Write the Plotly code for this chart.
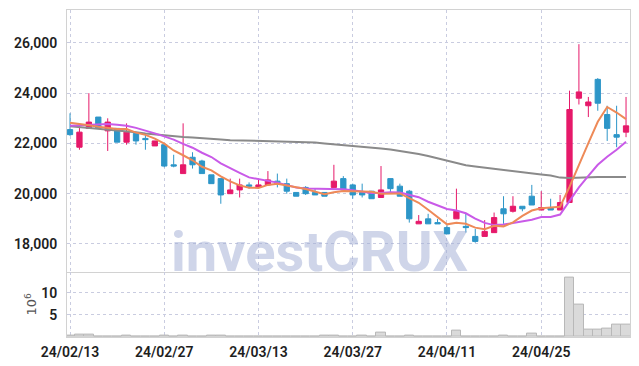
import plotly.graph_objects as go
from plotly.subplots import make_subplots

dates = ["24/02/13","24/02/14","24/02/15","24/02/16","24/02/19","24/02/20","24/02/21","24/02/22","24/02/23","24/02/26",
         "24/02/27","24/02/28","24/02/29","24/03/04","24/03/05","24/03/06","24/03/07","24/03/08","24/03/11","24/03/12",
         "24/03/13","24/03/14","24/03/15","24/03/18","24/03/19","24/03/20","24/03/21","24/03/22","24/03/25","24/03/26",
         "24/03/27","24/03/28","24/03/29","24/04/01","24/04/02","24/04/03","24/04/04","24/04/05","24/04/08","24/04/09",
         "24/04/11","24/04/12","24/04/15","24/04/16","24/04/17","24/04/18","24/04/19","24/04/22","24/04/23","24/04/24",
         "24/04/25","24/04/26","24/04/29","24/04/30","24/05/02","24/05/03","24/05/07","24/05/08","24/05/09","24/05/10"]

open_ = [22550,21850,22600,23050,22500,22600,22050,22400,22200,21900,
         21950,21150,20800,21450,21300,20750,20600,20000,20150,20350,
         20250,20350,20500,20400,20050,20250,20050,20050,20250,20600,
         20350,20050,20100,19850,20600,20300,20100,18800,19000,18850,
         18650,19000,18700,18300,18300,18450,19400,19300,19500,19900,
         19350,19450,19350,19650,23800,23500,24550,23150,22350,22450]
high = [23200,22800,24000,23050,23000,22600,22800,22400,22350,22100,
        22000,21550,22800,21650,21350,20750,20600,20600,20600,20450,
        20600,20900,20800,20600,20050,20300,20200,20050,21150,20700,
        20400,20400,20100,21100,20600,20400,20150,19150,19200,19000,
        18750,20200,19200,18600,18950,19250,19900,19900,19500,20350,
        20100,19800,19950,24100,25950,23850,24600,23500,23500,23850]
low = [22300,21750,22600,22600,21700,22050,21950,21950,21750,21900,
       21050,21050,20800,21000,20800,20400,19600,20000,19850,20200,
       20250,20350,20250,20000,19900,19950,19950,19900,20250,20150,
       19800,19850,19800,19850,20000,19900,18850,18800,18800,18800,
       18400,19000,18450,18050,18300,18450,18800,19250,19300,19550,
       19350,19350,19350,19650,23550,23050,23300,22100,21850,22250]
close = [22350,22450,22850,22600,22850,22050,22450,22100,22150,22100,
         21100,21100,21150,21150,20800,20400,19950,20150,20350,20300,
         20350,20550,20400,20100,19900,20000,19950,19900,20500,20150,
         19950,19950,19800,20150,20200,19900,19000,18900,18800,18800,
         18400,19300,18650,18100,18500,19050,19200,19500,19400,19550,
         19450,19350,19650,23350,24050,23650,23600,22600,22250,22700]

ma5 = [22820,22780,22720,22660,22620,22570,22570,22430,22340,22190,
       21990,21720,21530,21330,21070,20930,20690,20490,20330,20240,
       20230,20350,20400,20340,20260,20190,20070,19980,20060,20110,
       20100,20100,20080,20000,20020,20010,19820,19640,19360,19080,
       18780,18840,18800,18650,18590,18720,18700,18860,19120,19330,
       19420,19450,19480,20270,21170,22010,22860,23450,23230,22970]
ma10 = [22700,22720,22750,22770,22770,22740,22700,22620,22520,22400,
        22280,22150,21980,21830,21630,21460,21210,21010,20830,20650,
        20580,20520,20440,20340,20250,20210,20210,20190,20200,20180,
        20140,20080,20030,20030,20060,20050,19960,19860,19680,19550,
        19390,19330,19220,19010,18840,18750,18770,18830,18890,18960,
        19070,19070,19170,19700,20250,20710,21150,21470,21750,22070]
ma60 = [22680,22650,22620,22590,22560,22530,22490,22450,22400,22360,
        22320,22280,22260,22240,22220,22190,22160,22130,22120,22120,
        22110,22110,22100,22090,22080,22070,22040,22000,21970,21940,
        21910,21880,21850,21800,21760,21710,21650,21580,21500,21410,
        21300,21200,21130,21080,21030,20980,20930,20880,20840,20800,
        20760,20720,20640,20620,20640,20650,20660,20660,20660,20660]
volume = [0.3,0.65,0.65,0.2,0.2,0.1,0.3,0.1,0.1,0.1,
          0.3,0.1,0.3,0.1,0.1,0.3,0.3,0.1,0.1,0.1,
          0.1,0.1,0.1,0.1,0.1,0.1,0.1,0.4,0.4,0.1,
          0.1,0.3,0.1,1.0,0.2,0.2,0.4,0.2,0.2,0.1,
          0.1,1.4,0.1,0.1,0.1,0.1,0.3,0.15,0.15,0.7,
          0.2,0.2,0.2,13.4,7.3,1.6,1.6,2.0,2.7,2.7]

tick_idx = [0, 10, 20, 30, 40, 50]
tick_vals = [dates[i] for i in tick_idx]

RED = "#e6196a"
BLUE = "#2d96c8"
GRID = "#c9cce0"
AXLINE = "#d2d2d2"
FONT = "Roboto"

fig = make_subplots(rows=2, cols=1, shared_xaxes=True, vertical_spacing=0)

fig.add_trace(go.Candlestick(
    x=dates, open=open_, high=high, low=low, close=close,
    increasing=dict(line=dict(color=RED, width=1), fillcolor=RED),
    decreasing=dict(line=dict(color=BLUE, width=1), fillcolor=BLUE),
    whiskerwidth=0, showlegend=False), row=1, col=1)

fig.add_trace(go.Scatter(x=dates, y=ma60, mode="lines",
                         line=dict(color="#8a8a8a", width=2), showlegend=False), row=1, col=1)
fig.add_trace(go.Scatter(x=dates, y=ma10, mode="lines",
                         line=dict(color="#c95ae8", width=2), showlegend=False), row=1, col=1)
fig.add_trace(go.Scatter(x=dates, y=ma5, mode="lines",
                         line=dict(color="#ee8a58", width=2), showlegend=False), row=1, col=1)

fig.add_trace(go.Bar(x=dates, y=volume, marker=dict(color="#dadada", line=dict(color="#b8b8b8", width=1)),
                     showlegend=False), row=2, col=1)

tickfont = dict(family=FONT, size=14, color="#1e1e1e", weight=600)

fig.update_layout(
    width=639, height=366,
    margin=dict(l=67, r=9, t=10, b=29),
    paper_bgcolor="white", plot_bgcolor="white",
    bargap=0, boxgap=0.2,
    font=dict(family=FONT),
    xaxis=dict(type="category", range=[-0.32, 59.42], domain=[0, 1], automargin=False,
               rangeslider=dict(visible=False), showticklabels=False,
               tickvals=tick_vals, showgrid=True, gridcolor=GRID, griddash="dot", gridwidth=1,
               showline=True, mirror=True, linecolor=AXLINE, linewidth=1, zeroline=False),
    yaxis=dict(domain=[0.2, 1], range=[16900, 27310], tickvals=[18000, 20000, 22000, 24000, 26000],
               tickformat=",d", tickfont=tickfont, ticklabelstandoff=6, automargin=False,
               showgrid=True, gridcolor=GRID, griddash="dot", gridwidth=1,
               showline=True, mirror=True, linecolor=AXLINE, linewidth=1, zeroline=False),
    xaxis2=dict(type="category", range=[-0.32, 59.42], tickvals=tick_vals, ticktext=tick_vals,
                tickfont=tickfont, rangeslider=dict(visible=False), automargin=False,
                ticklabelstandoff=2,
                showgrid=True, gridcolor=GRID, griddash="dot", gridwidth=1,
                showline=True, mirror=False, linecolor=AXLINE, linewidth=1, zeroline=False),
    yaxis2=dict(domain=[0, 0.2], range=[0, 14.8], tickvals=[5, 10], tickfont=tickfont,
                ticklabelstandoff=6, automargin=False,
                title=dict(text="10<sup>6</sup>", font=dict(family="DejaVu Sans", size=13, color="#555"), standoff=1),
                showgrid=True, gridcolor=GRID, griddash="dot", gridwidth=1,
                showline=True, mirror=True, linecolor=AXLINE, linewidth=1, zeroline=False),
)

fig.add_annotation(text="investCRUX", xref="paper", yref="paper", x=0.448, y=0.26,
                   xanchor="center", yanchor="middle", showarrow=False,
                   font=dict(family="Roboto", size=56, color="rgba(160,172,212,0.5)", weight="bold"))

fig.write_html("out.html", config={"displayModeBar": False},
               post_script="document.body.style.margin='0px';")
